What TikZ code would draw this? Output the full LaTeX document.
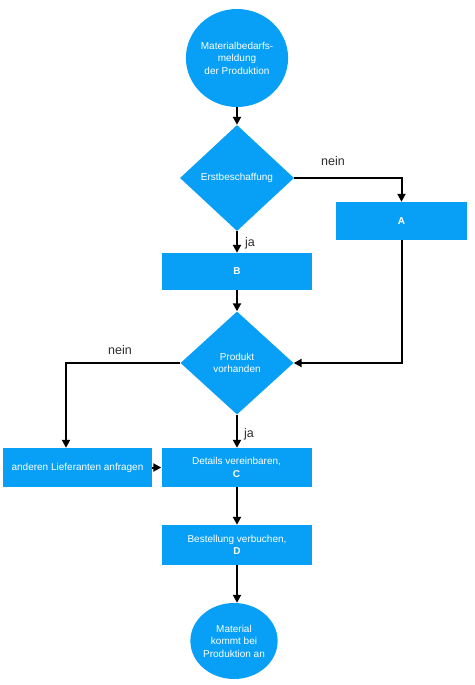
\documentclass[tikz,border=0pt]{standalone}
\usepackage{fontspec}
\setmainfont{Liberation Sans}
\usetikzlibrary{shapes.geometric,arrows.meta}
\definecolor{flowblue}{RGB}{8,160,247}
\definecolor{labelgray}{RGB}{45,45,45}
\begin{document}
\begin{tikzpicture}[x=1pt,y=-1pt,
  every node/.style={font=\fontsize{10}{12.5}\selectfont, text=white, align=center, inner sep=0pt},
  termnode/.style={ellipse, fill=flowblue},
  decnode/.style={diamond, fill=flowblue, aspect=1},
  procnode/.style={rectangle, fill=flowblue},
  edgelabel/.style={font=\fontsize{12.5}{14}\selectfont, text=labelgray},
  conn/.style={line width=2pt, -{Triangle[length=8pt,width=8pt]}},
  plainconn/.style={line width=2pt}
]
\useasboundingbox (0,0) rectangle (474,685);

\node[termnode, minimum width=98pt, minimum height=98pt] (start) at (237,58)
  {Materialbedarfs-\\meldung\\der Produktion};
\node[decnode, minimum width=114pt, minimum height=106pt] (d1) at (237,178) {Erstbeschaffung};
\node[procnode, minimum width=131pt, minimum height=38pt] (A) at (401.5,221) {\textbf{A}};
\node[procnode, minimum width=150pt, minimum height=37pt] (B) at (237,271.5) {\textbf{B}};
\node[decnode, minimum width=113pt, minimum height=103pt] (d2) at (237,363) {Produkt\\vorhanden};
\node[procnode, minimum width=149pt, minimum height=39pt] (L) at (77.5,467.5) {anderen Lieferanten anfragen};
\node[procnode, minimum width=150pt, minimum height=39pt] (C) at (236.5,467.5) {Details vereinbaren,\\\textbf{C}};
\node[procnode, minimum width=150pt, minimum height=40pt] (D) at (237,545) {Bestellung verbuchen,\\\textbf{D}};
\node[termnode, minimum width=86pt, minimum height=76pt] (end) at (234,641)
  {Material\\kommt bei\\Produktion an};

\coordinate (nl) at (66,363);

\draw[conn] (start.south) -- (d1.north);
\draw[conn] (d1.east) -| (A.north);
\draw[conn] (d1.south) -- (B.north);
\draw[conn] (B.south) -- (d2.north);
\draw[conn] (A.south) |- (d2.east);
\draw[conn] (d2.west) -- (nl) -- (nl |- L.north);
\draw[conn] (d2.south) -- (d2.south |- C.north);
\draw[conn] (L.east) -- (C.west);
\draw[conn] (C.south -| D.north) -- (D.north);
\draw[conn] (D.south) -- (D.south |- end.north);

\node[edgelabel] (nein1) at (333,161) {nein};
\node[edgelabel] (ja1) at (250,243) {ja};
\node[edgelabel] (nein2) at (120,350) {nein};
\node[edgelabel] (ja2) at (249,434) {ja};
\end{tikzpicture}
\end{document}
